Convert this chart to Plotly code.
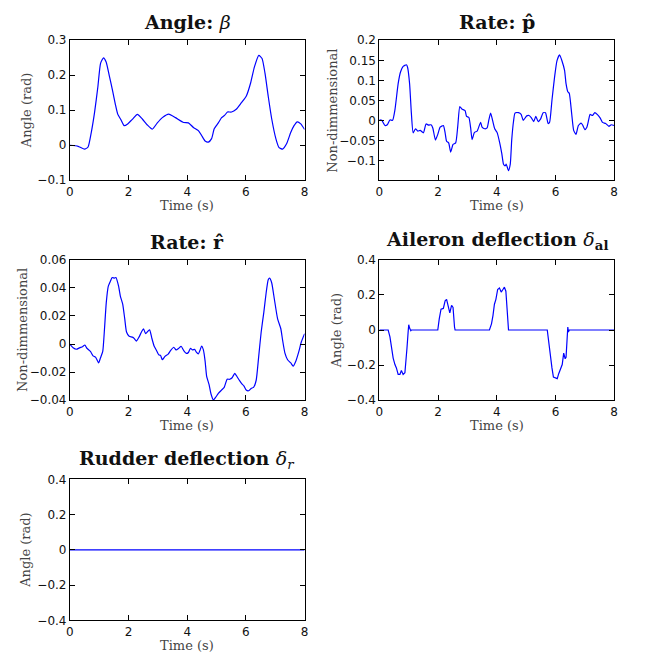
import plotly.graph_objects as go

# ---------------- data ----------------
t_beta = [0, 0.28, 0.5, 0.62, 0.73, 0.84, 0.955, 1.045, 1.146, 1.236, 1.35, 1.46, 1.55, 1.63, 1.74, 1.85,
          1.97, 2.08, 2.16, 2.3, 2.47, 2.64, 2.81, 2.98, 3.15, 3.37, 3.6, 3.88, 4.04, 4.21, 4.38, 4.49,
          4.61, 4.72, 4.83, 4.92, 5.06, 5.17, 5.28, 5.37, 5.51, 5.67, 5.84, 6.01, 6.16, 6.29, 6.44, 6.55,
          6.65, 6.76, 6.88, 7.02, 7.13, 7.25, 7.39, 7.53, 7.64, 7.75, 7.87, 8.0]
beta = [0, -0.003, -0.011, -0.005, 0.037, 0.093, 0.168, 0.234, 0.25, 0.238, 0.196, 0.154, 0.117, 0.089,
        0.073, 0.056, 0.061, 0.07, 0.077, 0.088, 0.075, 0.058, 0.046, 0.064, 0.079, 0.089, 0.079, 0.065,
        0.064, 0.051, 0.042, 0.028, 0.012, 0.009, 0.019, 0.047, 0.064, 0.079, 0.086, 0.095, 0.095, 0.103,
        0.121, 0.14, 0.178, 0.224, 0.257, 0.248, 0.206, 0.14, 0.075, 0.019, -0.007, -0.011, 0.005, 0.037,
        0.056, 0.067, 0.061, 0.045]

t_p = [0, 0.08, 0.19, 0.27, 0.36, 0.45, 0.53, 0.64, 0.72, 0.81, 0.92, 0.96, 1.03, 1.09, 1.15, 1.23, 1.31,
       1.39, 1.5, 1.59, 1.68, 1.76, 1.82, 1.91, 1.99, 2.07, 2.18, 2.24, 2.29, 2.36, 2.43, 2.51, 2.6, 2.67,
       2.74, 2.81, 2.92, 2.97, 3.05, 3.11, 3.16, 3.24, 3.33, 3.45, 3.5, 3.59, 3.67, 3.73, 3.79, 3.86, 3.93,
       4.01, 4.1, 4.17, 4.23, 4.29, 4.32, 4.4, 4.46, 4.51, 4.57, 4.62, 4.74, 4.83, 4.9, 5.02, 5.1, 5.18,
       5.26, 5.33, 5.41, 5.49, 5.58, 5.66, 5.75, 5.8, 5.88, 5.97, 6.05, 6.14, 6.22, 6.31, 6.36, 6.42, 6.47,
       6.55, 6.62, 6.7, 6.78, 6.87, 6.92, 7.0, 7.07, 7.13, 7.18, 7.26, 7.34, 7.43, 7.52, 7.6, 7.71, 7.82,
       7.9, 8.0]
p_hat = [0.002, 0.001, -0.012, -0.01, 0.002, 0.001, 0.027, 0.092, 0.121, 0.135, 0.139, 0.133, 0.092,
         0.019, -0.03, -0.02, -0.026, -0.024, -0.03, -0.008, -0.011, -0.01, -0.018, -0.048, -0.034, -0.016,
         -0.012, -0.03, -0.051, -0.055, -0.078, -0.059, -0.055, -0.014, 0.035, 0.029, 0.025, 0.011, 0.008,
         -0.018, -0.047, -0.029, -0.026, -0.004, -0.016, -0.02, -0.018, 0.002, 0.019, 0.0, -0.02, -0.029,
         -0.055, -0.081, -0.108, -0.112, -0.108, -0.124, -0.108, -0.047, -0.002, 0.019, 0.02, 0.016, 0.001,
         0.012, 0.013, 0.007, -0.002, 0.011, -0.002, 0.004, 0.02, 0.02, -0.007, -0.004, 0.051, 0.109, 0.149,
         0.164, 0.149, 0.125, 0.092, 0.072, 0.068, 0.019, -0.024, -0.034, -0.012, -0.006, -0.01, -0.022,
         -0.016, 0.002, 0.016, 0.013, 0.02, 0.015, 0.007, -0.004, -0.007, -0.014, -0.01, -0.012]

t_r = [0, 0.11, 0.22, 0.34, 0.43, 0.51, 0.58, 0.7, 0.79, 0.88, 0.98, 1.04, 1.12, 1.18, 1.24, 1.31, 1.38,
       1.44, 1.52, 1.57, 1.66, 1.72, 1.8, 1.87, 1.93, 2.02, 2.13, 2.19, 2.27, 2.36, 2.44, 2.51, 2.58, 2.66,
       2.72, 2.79, 2.87, 2.96, 3.03, 3.09, 3.15, 3.24, 3.35, 3.43, 3.54, 3.62, 3.71, 3.79, 3.88, 3.97, 4.04,
       4.11, 4.18, 4.25, 4.31, 4.38, 4.44, 4.49, 4.55, 4.61, 4.66, 4.74, 4.81, 4.89, 4.97, 5.06, 5.17, 5.26,
       5.36, 5.45, 5.53, 5.62, 5.7, 5.79, 5.87, 5.93, 6.01, 6.09, 6.18, 6.26, 6.35, 6.43, 6.52, 6.61, 6.69,
       6.76, 6.81, 6.88, 6.97, 7.08, 7.19, 7.25, 7.33, 7.42, 7.53, 7.61, 7.7, 7.81, 7.89, 8.0]
r_hat = [0, -0.0026, -0.0037, -0.0026, -0.0019, -0.0007, -0.003, -0.0053, -0.0084, -0.0095, -0.0135,
         -0.01, -0.0053, 0.0109, 0.0295, 0.0412, 0.0447, 0.0474, 0.047, 0.0474, 0.0412, 0.0342, 0.0284,
         0.0179, 0.0086, 0.0056, 0.0049, 0.004, 0.0021, 0.0051, 0.0086, 0.0109, 0.0074, 0.0091, 0.0102,
         0.0044, -0.0014, -0.0049, -0.0077, -0.0081, -0.0112, -0.0088, -0.0072, -0.0047, -0.0023, -0.0042,
         -0.003, -0.0016, -0.0047, -0.0067, -0.006, -0.003, -0.0042, -0.0037, -0.0058, -0.007, -0.0042,
         -0.0014, -0.0042, -0.0123, -0.0228, -0.0286, -0.0356, -0.0398, -0.0379, -0.0351, -0.0328, -0.0309,
         -0.0251, -0.0251, -0.024, -0.0209, -0.0233, -0.0263, -0.0286, -0.0298, -0.0328, -0.0333, -0.0316,
         -0.0309, -0.0258, -0.01, 0.0086, 0.0226, 0.0365, 0.0458, 0.047, 0.0435, 0.0319, 0.0179, 0.0109,
         0.0028, -0.0065, -0.0112, -0.0135, -0.0158, -0.0123, -0.0049, 0.0016, 0.0074]

t_al = [0, 0.30, 0.36, 0.42, 0.47, 0.53, 0.58, 0.64, 0.7, 0.75, 0.81, 0.87, 0.9, 0.94, 0.98, 1.0, 1.03,
        1.07, 1.09, 1.99, 2.04, 2.1, 2.18, 2.24, 2.29, 2.35, 2.4, 2.46, 2.51, 2.56, 2.58, 3.75, 3.82, 3.87,
        3.92, 3.97, 4.03, 4.09, 4.15, 4.21, 4.26, 4.31, 4.35, 4.4, 5.72, 5.77, 5.82, 5.88, 5.93, 5.99, 6.06,
        6.11, 6.17, 6.23, 6.28, 6.33, 6.36, 6.39, 6.42, 6.44, 6.47, 8.0]
delta_al = [0, 0, -0.039, -0.104, -0.16, -0.197, -0.216, -0.253, -0.253, -0.231, -0.253, -0.244, -0.197,
            -0.104, -0.011, 0.03, 0.011, -0.004, 0, 0, 0.063, 0.119, 0.123, 0.166, 0.175, 0.138, 0.097,
            0.141, 0.128, 0.017, 0, 0, 0.035, 0.082, 0.147, 0.175, 0.231, 0.24, 0.216, 0.231, 0.244, 0.221,
            0.1, 0, 0, -0.067, -0.16, -0.216, -0.268, -0.272, -0.277, -0.249, -0.225, -0.197, -0.132, -0.164,
            -0.156, -0.067, 0.017, -0.011, 0, 0]

t_rud = [0, 8]
delta_r = [0, 0]

x_ticks = [0, 2, 4, 6, 8]
beta_ticks = [-0.1, 0, 0.1, 0.2, 0.3]
beta_ticktext = ["\u22120.1", "0", "0.1", "0.2", "0.3"]
p_ticks = [-0.1, -0.05, 0, 0.05, 0.1, 0.15, 0.2]
p_ticktext = ["\u22120.1", "\u22120.05", "0", "0.05", "0.1", "0.15", "0.2"]
r_ticks = [-0.04, -0.02, 0, 0.02, 0.04, 0.06]
r_ticktext = ["\u22120.04", "\u22120.02", "0", "0.02", "0.04", "0.06"]
defl_ticks = [-0.4, -0.2, 0, 0.2, 0.4]
defl_ticktext = ["\u22120.4", "\u22120.2", "0", "0.2", "0.4"]

titles = ["<b>Angle: </b><i>\u03b2</i>",
          "<b>Rate: p\u0302</b>",
          "<b>Rate: r\u0302</b>",
          "<b>Aileron deflection </b><i>\u03b4</i><sub><b>al</b></sub>",
          "<b>Rudder deflection </b><i>\u03b4<sub>r</sub></i>"]
ylabels = ["Angle (rad)", "Non-dimmensional", "Non-dimmensional", "Angle (rad)", "Angle (rad)"]
xlabel = "Time (s)"

# ---------------- layout geometry ----------------
W, H = 657, 660
col_px = [(66.7, 304.3), (380.0, 617.7)]
row_px = [(34.0, 177.0), (258.3, 401.7), (482.7, 626.7)]


def xdom(c):
    return [col_px[c][0] / W, col_px[c][1] / W]


def ydom(r):
    return [1 - row_px[r][1] / H, 1 - row_px[r][0] / H]


panels = [
    dict(t=t_beta, y=beta, r=0, c=0, rng=[-0.1, 0.3], tv=beta_ticks, tt=beta_ticktext, shape="spline", ysh=-44),
    dict(t=t_p, y=p_hat, r=0, c=1, rng=[-0.148, 0.2], tv=p_ticks, tt=p_ticktext, shape="spline", ysh=-47),
    dict(t=t_r, y=r_hat, r=1, c=0, rng=[-0.04, 0.06], tv=r_ticks, tt=r_ticktext, shape="spline", ysh=-48),
    dict(t=t_al, y=delta_al, r=1, c=1, rng=[-0.4, 0.4], tv=defl_ticks, tt=defl_ticktext, shape="linear", ysh=-43),
    dict(t=t_rud, y=delta_r, r=2, c=0, rng=[-0.4, 0.4], tv=defl_ticks, tt=defl_ticktext, shape="linear", ysh=-44),
]

fig = go.Figure()
annotations = []
layout_axes = {}
tickfont = dict(family="DejaVu Sans", size=12, color="#111")
labelfont = dict(family="DejaVu Serif", size=13, color="#444")
titlefont = dict(family="DejaVu Serif", size=19, color="#111")

for i, p in enumerate(panels):
    n = i + 1
    xa = "x" if n == 1 else f"x{n}"
    ya = "y" if n == 1 else f"y{n}"
    line = dict(color="#0000ff", width=1.2, shape=p["shape"])
    if p["shape"] == "spline":
        line["smoothing"] = 0.5
    fig.add_trace(go.Scatter(x=p["t"], y=p["y"], mode="lines", line=line,
                             xaxis=xa, yaxis=ya, showlegend=False, hoverinfo="skip"))
    common = dict(showline=True, linecolor="black", linewidth=1, mirror="ticks",
                  ticks="inside", ticklen=5, tickcolor="black", tickwidth=1,
                  showgrid=False, zeroline=False, tickfont=tickfont)
    layout_axes["xaxis" if n == 1 else f"xaxis{n}"] = dict(
        domain=xdom(p["c"]), anchor=ya, range=[0, 8], tickvals=x_ticks,
        ticktext=[str(v) for v in x_ticks], ticklabelstandoff=0, **common)
    layout_axes["yaxis" if n == 1 else f"yaxis{n}"] = dict(
        domain=ydom(p["r"]), anchor=xa, range=p["rng"], tickvals=p["tv"],
        ticktext=p["tt"], **common)
    xd = xdom(p["c"])
    yd = ydom(p["r"])
    xc = (xd[0] + xd[1]) / 2
    annotations.append(dict(text=titles[i], x=xc, y=yd[1], xref="paper", yref="paper",
                            xanchor="center", yanchor="bottom", yshift=5, showarrow=False,
                            font=titlefont))
    annotations.append(dict(text=xlabel, x=xc, y=yd[0], xref="paper", yref="paper",
                            xanchor="center", yanchor="top", yshift=-16, showarrow=False,
                            font=labelfont))
    annotations.append(dict(text=ylabels[i], x=xd[0], y=(yd[0] + yd[1]) / 2, xref="paper",
                            yref="paper", xanchor="center", yanchor="middle", xshift=p["ysh"],
                            textangle=-90, showarrow=False, font=labelfont))

fig.update_layout(width=W, height=H, autosize=False, margin=dict(l=0, r=0, t=0, b=0),
                  paper_bgcolor="white", plot_bgcolor="white", annotations=annotations,
                  **layout_axes)

fig.write_html("out.html")
